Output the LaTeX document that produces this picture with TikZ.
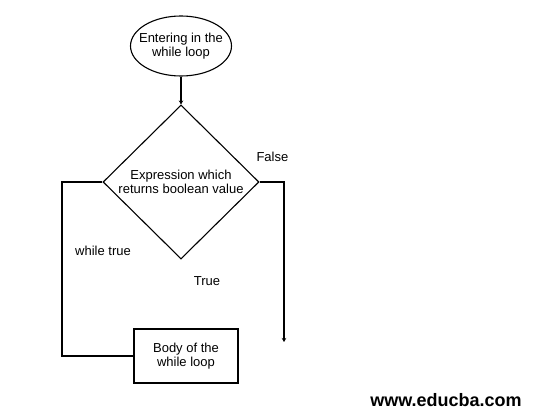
\documentclass[tikz,border=0pt]{standalone}
\usepackage{fontspec}
\setmainfont{Liberation Sans}
\usetikzlibrary{shapes.geometric,arrows.meta}
\begin{document}
\begin{tikzpicture}[x=1pt,y=-1pt,
  line width=1.1pt,
  lbl/.style={font=\fontsize{13}{13.5}\selectfont, align=center, inner sep=0pt},
  arr/.style={-{Stealth[length=4pt,width=4.5pt]}}]
\useasboundingbox[fill=white] (0,0) rectangle (534,414);
\node[draw, ellipse, minimum width=101pt, minimum height=60pt, lbl, inner sep=-8pt] (start) at (181,46) {Entering in the\\while loop};
\node[draw, diamond, minimum width=156pt, minimum height=154pt, aspect=1, lbl] (cond) at (181,182) {Expression which\\returns boolean value};
\node[draw, rectangle, minimum width=104pt, minimum height=54pt, lbl] (body) at (186,356) {Body of the\\while loop};
\coordinate (endp) at (284,342);
\draw[arr] (start.south) -- (cond.north);
\draw (cond.west) -- (62,182) |- (body.west);
\draw[arr] (cond.east) -- (284,182) -- (endp);
\node[lbl, anchor=south west] (f) at (256,162) {False};
\node[lbl] (wt) at (103,251) {while true};
\node[lbl] (t) at (207,281) {True};
\node[font=\bfseries\fontsize{18}{19}\selectfont, inner sep=0pt] (url) at (446,400) {www.educba.com};
\end{tikzpicture}
\end{document}
